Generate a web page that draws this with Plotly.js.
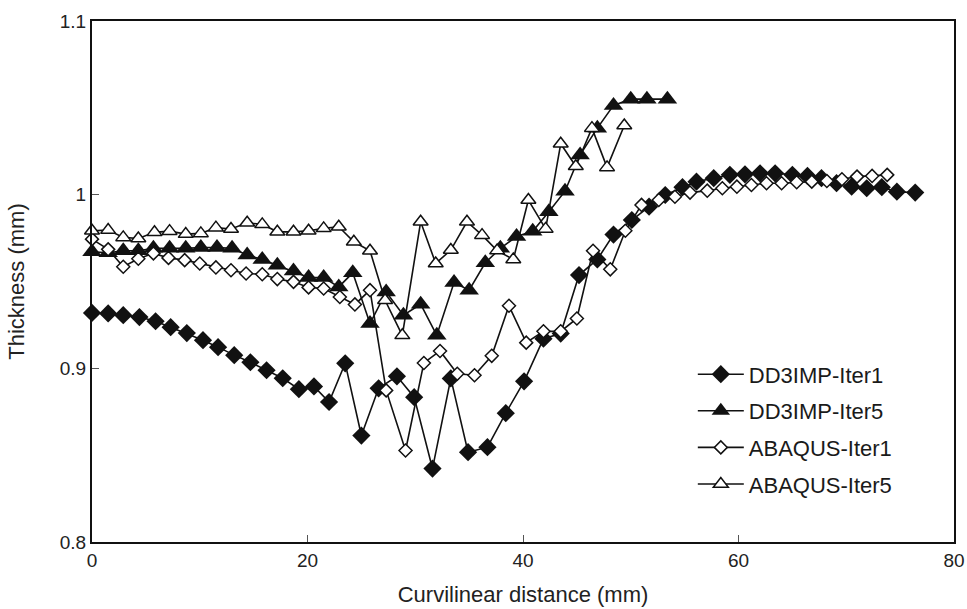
<!DOCTYPE html>
<html>
<head>
<meta charset="utf-8">
<script src="https://cdn.plot.ly/plotly-3.0.1.min.js"></script>
<style>html,body{margin:0;padding:0;background:#fff}#chart{width:967px;height:609px}</style>
</head>
<body>
<div id="chart"></div>
<script>
const seriesNames = ["DD3IMP-Iter1", "DD3IMP-Iter5", "ABAQUS-Iter1", "ABAQUS-Iter5"];

const dd1X = [0,1.5,2.9,4.4,5.9,7.3,8.8,10.3,11.7,13.2,14.7,16.2,17.7,19.2,20.6,22.0,23.5,25.0,26.6,28.3,29.9,31.6,33.3,34.9,36.7,38.4,40.1,41.9,43.5,45.2,46.9,48.4,50.1,51.7,53.2,54.8,56.1,57.7,59.2,60.6,62.0,63.4,65.0,66.4,67.7,69.1,70.5,71.9,73.3,74.7,76.4];
const dd1Y = [0.9319,0.9316,0.9306,0.9295,0.9271,0.9237,0.9203,0.9162,0.9122,0.9076,0.9035,0.8989,0.8943,0.8880,0.8896,0.8806,0.9029,0.8613,0.8885,0.8954,0.8834,0.8423,0.8942,0.8517,0.8546,0.8742,0.8925,0.9171,0.9200,0.9537,0.9627,0.9770,0.9854,0.9931,0.9998,1.0043,1.0075,1.0095,1.0114,1.0117,1.0123,1.0123,1.0114,1.0108,1.0095,1.0066,1.0046,1.0037,1.0043,1.0017,1.0012];

const dd5X = [0,1.5,2.9,4.3,5.7,7.2,8.7,10.1,11.6,13.0,14.4,15.8,17.2,18.7,20.1,21.5,22.9,24.2,25.8,27.3,28.9,30.5,32.0,33.6,35.0,36.5,37.9,39.4,40.9,42.4,43.9,45.3,46.9,48.4,50.0,51.5,53.4];
const dd5Y = [0.9671,0.9665,0.9677,0.9677,0.9691,0.9691,0.9691,0.9696,0.9696,0.9691,0.9652,0.9627,0.9594,0.9560,0.9523,0.9523,0.9469,0.9550,0.9258,0.9440,0.9306,0.9369,0.9190,0.9494,0.9450,0.9608,0.9691,0.9759,0.9789,0.9902,1.0020,1.0229,1.0383,1.0514,1.0550,1.0550,1.0550];

const ab1X = [0,1.5,2.9,4.3,5.7,7.1,8.6,10.0,11.5,12.9,14.3,15.8,17.2,18.7,20.1,21.5,23.0,24.4,25.8,27.3,29.1,30.8,32.3,33.9,35.5,37.1,38.7,40.3,41.9,43.5,45.0,46.5,48.1,49.5,51.0,52.6,54.1,55.5,57.1,58.5,59.85,61.2,62.6,64.0,65.4,66.8,68.2,69.6,71.0,72.4,73.8];
const ab1Y = [0.9744,0.9685,0.9585,0.9631,0.9662,0.9636,0.9623,0.9604,0.9581,0.9565,0.9546,0.9542,0.9514,0.9498,0.9466,0.9460,0.9411,0.9368,0.9450,0.8873,0.8527,0.9031,0.9100,0.8969,0.8960,0.9072,0.9360,0.9148,0.9213,0.9213,0.9287,0.9677,0.9570,0.9792,0.9941,0.9969,0.9988,1.0012,1.0023,1.0037,1.0046,1.0056,1.0066,1.0066,1.0072,1.0075,1.0079,1.0089,1.0104,1.0108,1.0114];

const ab5X = [0,1.5,2.9,4.3,5.8,7.2,8.7,10.1,11.5,12.9,14.4,15.8,17.2,18.7,20.1,21.5,22.9,24.3,25.8,27.2,28.8,30.5,31.9,33.3,34.8,36.2,37.6,39.1,40.5,42.1,43.5,44.9,46.4,47.8,49.4];
const ab5Y = [0.9792,0.9796,0.9754,0.9748,0.9783,0.9790,0.9773,0.9777,0.9810,0.9802,0.9838,0.9829,0.9786,0.9786,0.9792,0.9806,0.9815,0.9729,0.9677,0.9392,0.9190,0.9844,0.9604,0.9681,0.9844,0.9767,0.9678,0.9627,0.9969,0.9803,1.0293,1.0164,1.0383,1.0157,1.0398];

const xTicks = [0, 20, 40, 60, 80];
const yTicks = [0.8, 0.9, 1.0, 1.1];
const yTickText = ["0.8", "0.9", "1", "1.1"];
const xTitle = "Curvilinear distance (mm)";
const yTitle = "Thickness (mm)";

const FONT = "Liberation Sans, Arial, Helvetica, sans-serif";
const INK = "#111111";

function tr(name, x, y, symbol, size, filled, group) {
  return {
    type: "scatter", mode: "lines+markers", name: name, x: x, y: y,
    legendgroup: group, cliponaxis: false,
    line: {color: INK, width: 1.6},
    marker: {symbol: symbol, size: size, color: filled ? INK : "#ffffff",
             line: {color: INK, width: filled ? 0 : 1.5}}
  };
}

const data = [
  tr(seriesNames[0], dd1X, dd1Y, "diamond", 14, true, "g1"),
  tr(seriesNames[1], dd5X, dd5Y, "triangle-up", 17, true, "g2"),
  tr(seriesNames[2], ab1X, ab1Y, "diamond", 10, false, "g3"),
  tr(seriesNames[3], ab5X, ab5Y, "triangle-up", 13, false, "g4")
];

const layout = {
  width: 967, height: 609,
  margin: {l: 92, r: 13, t: 21, b: 67},
  paper_bgcolor: "#ffffff", plot_bgcolor: "#ffffff",
  font: {family: FONT, color: "#222222", size: 19},
  showlegend: true,
  legend: {
    x: 0.697, y: 0.362, xanchor: "left", yanchor: "top",
    bgcolor: "rgba(0,0,0,0)", borderwidth: 0,
    font: {family: FONT, size: 22, color: "#1a1a1a"},
    traceorder: "grouped", tracegroupgap: 5, itemwidth: 46
  },
  xaxis: {
    range: [0, 80], tickvals: xTicks, ticktext: xTicks.map(String),
    showgrid: false, zeroline: false,
    showline: true, linecolor: "#111111", linewidth: 2, mirror: true,
    ticks: "inside", ticklen: 7, tickwidth: 1, tickcolor: "#555555",
    tickfont: {family: FONT, size: 19, color: "#222222"},
    title: {text: xTitle, font: {family: FONT, size: 22, color: "#222222"}, standoff: 17}
  },
  yaxis: {
    range: [0.8, 1.1], tickvals: yTicks, ticktext: yTickText,
    showgrid: false, zeroline: false,
    showline: true, linecolor: "#111111", linewidth: 2, mirror: true,
    ticks: "inside", ticklen: 7, tickwidth: 1, tickcolor: "#555555",
    tickfont: {family: FONT, size: 19, color: "#222222"},
    title: {text: yTitle, font: {family: FONT, size: 22, color: "#222222"}, standoff: 29}
  }
};

Plotly.newPlot("chart", data, layout, {displayModeBar: false, staticPlot: true});
</script>
</body>
</html>
